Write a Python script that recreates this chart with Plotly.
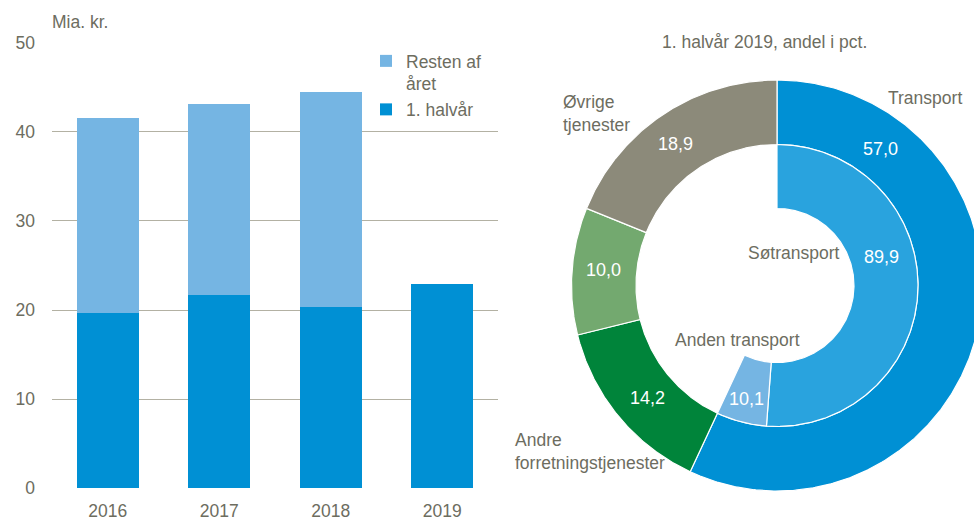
import numpy as np
import plotly.graph_objects as go

# ---------------- data ----------------
years = ["2016", "2017", "2018", "2019"]
first_half = [19.7, 21.7, 20.3, 22.9]
rest_of_year = [21.9, 21.4, 24.2, None]
bar_names = ["1. halvår", "Resten af<br>året"]

outer_labels = ["Transport", "Andre<br>forretningstjenester", "Royalties<br>og<br>licenser", "Øvrige<br>tjenester"]
outer_values = [57.0, 14.2, 10.0, 18.9]
inner_labels = ["Søtransport", "Anden transport"]
inner_values = [89.9, 10.1]

pie_title = "1. halvår 2019, andel i pct."
y_unit = "Mia. kr."

# ---------------- style ----------------
FONT = "Liberation Sans, Arial, sans-serif"
TXT = "#6d6d5f"
GRID = "#b3b1a3"
C_FIRST = "#0090d4"
C_REST = "#75b5e3"
outer_colors = ["#0090d4", "#00843a", "#73a96f", "#8c8a7a"]
inner_colors = ["#29a3de", "#75b5e3"]

VW, VH = 974, 523        # viewport
OFF = 0                  # page body margin (removed by post_script)
W, H = VW - OFF, VH - OFF


def fx(x):
    return (x - OFF) / W


def fy(y):
    return 1 - (y - OFF) / H


CXP, CYP = 777.0, 285.5          # donut centre (viewport pixels)
R0, R1, R2 = 77.0, 141.0, 205.5  # hole, ring boundary, outer radius
X2_LEFT = 510


def px(x, y):
    """viewport pixel position -> donut axis coordinates"""
    return x - CXP, CYP - y


def sector(a0, a1, r_in, r_out):
    n = max(10, int(abs(a1 - a0) * 2))
    t = np.radians(np.linspace(a0, a1, n))
    xo, yo = r_out * np.sin(t), r_out * np.cos(t)
    ti = t[::-1]
    xi, yi = r_in * np.sin(ti), r_in * np.cos(ti)
    xs = np.concatenate([xo, xi, xo[:1]])
    ys = np.concatenate([yo, yi, yo[:1]])
    return xs, ys


fig = go.Figure()

# ---------------- bar chart ----------------
fig.add_trace(go.Bar(x=years, y=first_half, name=bar_names[0], marker=dict(color=C_FIRST, line=dict(width=0)),
                     xaxis="x", yaxis="y"))
fig.add_trace(go.Bar(x=years, y=rest_of_year, name=bar_names[1], marker=dict(color=C_REST, line=dict(width=0)),
                     xaxis="x", yaxis="y"))

# ---------------- donut ----------------
tot = sum(outer_values)
angles = np.concatenate([[0], np.cumsum(outer_values) / tot * 360])
for i, lab in enumerate(outer_labels):
    xs, ys = sector(angles[i], angles[i + 1], R1, R2)
    fig.add_trace(go.Scatter(x=xs, y=ys, fill="toself", fillcolor=outer_colors[i], mode="lines",
                             line=dict(color="white", width=1.2), hoverinfo="skip", showlegend=False,
                             xaxis="x2", yaxis="y2"))
t_span = angles[1]
itot = sum(inner_values)
iang = np.concatenate([[0], np.cumsum(inner_values) / itot * t_span])
for i, lab in enumerate(inner_labels):
    xs, ys = sector(iang[i], iang[i + 1], R0, R1)
    fig.add_trace(go.Scatter(x=xs, y=ys, fill="toself", fillcolor=inner_colors[i], mode="lines",
                             line=dict(color="white", width=1.2), hoverinfo="skip", showlegend=False,
                             xaxis="x2", yaxis="y2"))


def fmt(v):
    return f"{v:.1f}".replace(".", ",")


annotations = []


def ann(text, x, y, color=TXT, xanchor="center", align="center", size=17.5):
    ax, ay = px(x, y)
    annotations.append(dict(text=text, x=ax, y=ay, xref="x2", yref="y2", showarrow=False,
                            xanchor=xanchor, yanchor="middle", align=align,
                            font=dict(family=FONT, size=size, color=color)))


# category labels (viewport pixel positions)
cat_pos = [(886, 98, "left"), (513, 451.5, "left"), (498, 240, "left"), (561, 113.5, "left")]
val_pos = [(880, 149), (647, 398), (603, 270), (675, 144)]
for lab, v, (x, y, al), (vx, vy) in zip(outer_labels, outer_values, cat_pos, val_pos):
    ann(lab, x, y, xanchor=al, align=al)
    ann(fmt(v), vx, vy, color="white", size=18)

in_cat_pos = [(794, 253), (737, 340)]
in_val_pos = [(881, 257), (746, 399)]
for lab, v, (x, y), (vx, vy) in zip(inner_labels, inner_values, in_cat_pos, in_val_pos):
    ann(lab, x, y)
    ann(fmt(v), vx, vy, color="white", size=18)

ann(pie_title, 764, 42)

annotations.append(dict(text=y_unit, x=fx(50), y=fy(22), xref="paper", yref="paper", showarrow=False,
                        xanchor="left", yanchor="middle", font=dict(family=FONT, size=17.5, color=TXT)))

# ---------------- layout ----------------
fig.update_layout(
    width=W, height=H,
    margin=dict(l=0, r=0, t=0, b=0, autoexpand=False),
    paper_bgcolor="white", plot_bgcolor="rgba(0,0,0,0)",
    barmode="stack", bargap=0.444,
    font=dict(family=FONT, size=17.5, color=TXT),
    showlegend=True,
    legend=dict(x=fx(366), y=fy(43), xanchor="left", yanchor="top", traceorder="reversed",
                valign="top", bgcolor="rgba(0,0,0,0)", font=dict(family=FONT, size=17.5, color=TXT),
                itemclick=False),
    xaxis=dict(domain=[fx(52), fx(498)], showgrid=False, showline=False, zeroline=False, ticks="",
               automargin=False,
               tickfont=dict(family=FONT, size=17.5, color=TXT), ticklabelstandoff=10, fixedrange=True),
    yaxis=dict(domain=[fy(488.3), fy(42.7)], range=[0, 50], dtick=10, showgrid=True, gridcolor=GRID,
               gridwidth=1, zeroline=False, showline=False, ticks="", automargin=False,
               tickfont=dict(family=FONT, size=17.5, color=TXT), ticklabelstandoff=16, fixedrange=True),
    xaxis2=dict(domain=[fx(X2_LEFT), 1], range=[X2_LEFT - CXP, VW - CXP], visible=False, fixedrange=True,
                automargin=False),
    yaxis2=dict(domain=[0, 1], range=[-(VH - CYP), CYP - OFF], visible=False, fixedrange=True,
                automargin=False),
    annotations=annotations,
)

fig.write_html("out.html", config={"displayModeBar": False},
               post_script="document.body.style.margin='0';document.body.style.overflow='hidden';")
